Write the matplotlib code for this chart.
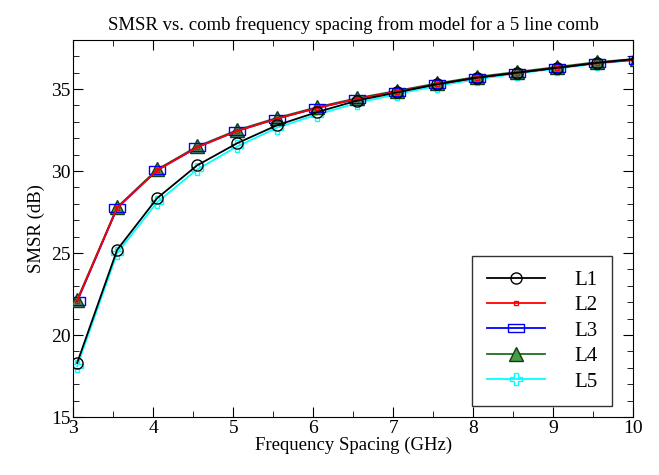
import matplotlib.pyplot as plt
from matplotlib.ticker import MultipleLocator

plt.rcParams['font.family'] = ['Liberation Serif', 'DejaVu Serif']

# frequency spacing (GHz)
spacing = [3.05, 3.55, 4.05, 4.55, 5.05, 5.55, 6.05, 6.55, 7.05, 7.55, 8.05, 8.55, 9.05, 9.55, 10.05]

# SMSR (dB) per comb line
L1 = [18.3, 25.2, 28.35, 30.35, 31.7, 32.8, 33.6, 34.3, 34.8, 35.3, 35.7, 36.0, 36.3, 36.6, 36.85]
L2 = [22.1, 27.75, 30.05, 31.45, 32.45, 33.2, 33.85, 34.4, 34.85, 35.3, 35.7, 36.0, 36.3, 36.6, 36.8]
L3 = [22.05, 27.75, 30.05, 31.45, 32.45, 33.2, 33.85, 34.4, 34.85, 35.3, 35.7, 36.0, 36.3, 36.6, 36.8]
L4 = [22.15, 27.8, 30.1, 31.5, 32.5, 33.25, 33.9, 34.45, 34.9, 35.35, 35.75, 36.05, 36.35, 36.65, 36.85]
L5 = [18.1, 25.0, 28.1, 30.1, 31.5, 32.65, 33.45, 34.15, 34.7, 35.2, 35.6, 35.95, 36.25, 36.55, 36.8]

rect = [(-2, -1), (2, -1), (2, 1), (-2, 1), (-2, -1)]

fig = plt.figure(figsize=(6.59, 4.75), dpi=100)
ax = fig.add_axes([0.111, 0.122, 0.85, 0.794])

ax.plot(spacing, L5, color='cyan', marker='P', ms=8, mfc='none', mec='cyan', lw=1.3, label='L5', zorder=2)
ax.plot(spacing, L4, color='#207020', marker='^', ms=10, mfc='#4a9a4a', mec='#0c400c', lw=1.3, label='L4', zorder=3)
ax.plot(spacing, L3, color='blue', marker=rect, ms=12, mfc='none', mec='blue', lw=1.3, label='L3', zorder=4)
ax.plot(spacing, L2, color='red', marker='s', ms=3.5, mfc='none', mec='red', lw=1.3, label='L2', zorder=5)
ax.plot(spacing, L1, color='black', marker='o', ms=8, mfc='none', mec='black', lw=1.3, label='L1', zorder=6)

ax.set_xlim(3, 10)
ax.set_ylim(15, 38)
ax.xaxis.set_major_locator(MultipleLocator(1))
ax.xaxis.set_minor_locator(MultipleLocator(0.5))
ax.yaxis.set_major_locator(MultipleLocator(5))
ax.yaxis.set_minor_locator(MultipleLocator(1))
ax.tick_params(which='both', direction='in', top=True, right=True, labelsize=14, pad=2)
ax.tick_params(which='major', length=7)
ax.tick_params(which='minor', length=4)

ax.set_title('SMSR vs. comb frequency spacing from model for a 5 line comb', fontsize=13.5, pad=7)
ax.set_xlabel('Frequency Spacing (GHz)', fontsize=13.5, labelpad=0)
ax.set_ylabel('SMSR (dB)', fontsize=13.5, labelpad=4)

handles, labels = ax.get_legend_handles_labels()
leg = ax.legend(handles[::-1], labels[::-1], loc='lower right', fontsize=15,
                fancybox=False, edgecolor='black', handlelength=2.8, handletextpad=1.4,
                borderpad=0.7, labelspacing=0.28, borderaxespad=0,
                bbox_to_anchor=(0.9625, 0.029))
leg.get_frame().set_linewidth(1.0)

fig.savefig('out.png', dpi=100)
